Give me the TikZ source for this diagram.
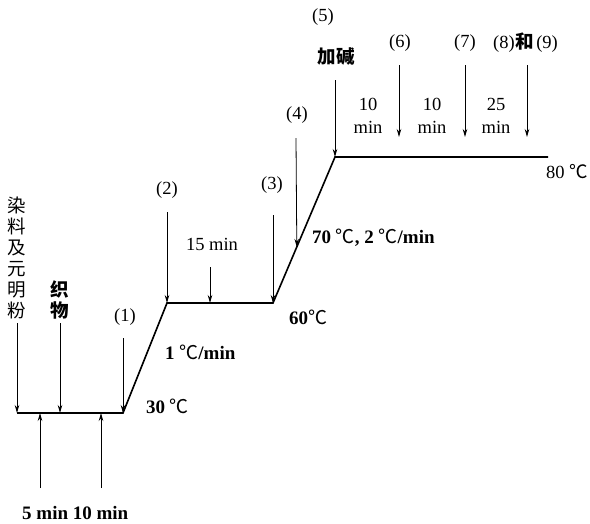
\documentclass[tikz,border=0pt]{standalone}
\usepackage{fontspec}
\setmainfont{Liberation Serif}
\newfontfamily\cjk{Noto Sans CJK SC}
\usetikzlibrary{arrows.meta,calc}
\newcommand{\degC}{{\cjk\mdseries ℃}}
\begin{document}
\begin{tikzpicture}[x=1pt,y=-1pt,
  stepline/.style={line width=1.6pt},
  downarr/.style={line width=0.8pt,-{Stealth[length=8pt,width=4.5pt]}},
  lbl/.style={inner sep=0pt,font=\fontsize{18.5}{20}\selectfont},
  blbl/.style={inner sep=0pt,font=\fontsize{19}{21}\selectfont\bfseries},
  vtxt/.style={inner sep=0pt,align=center,font=\fontsize{18.5}{21}\selectfont\cjk}]
\useasboundingbox (0,0) rectangle (590,523);
% profile
\coordinate (p0) at (17,413);
\coordinate (p1) at (123,413);
\coordinate (p2) at (167,303);
\coordinate (p3) at (273,303);
\coordinate (p4) at (335,157);
\coordinate (p5) at (548,157);
\draw[stepline] (p0) -- (p1) -- (p2) -- (p3) -- (p4) -- (p5);
% arrow tips on the line
\coordinate (t0) at (17,413);
\coordinate (tf) at (60,413);
\coordinate (t5) at (40,413);
\coordinate (t10) at (101,413);
\coordinate (t2) at (167,303);
\coordinate (t15) at (210,303);
\coordinate (t4) at ($(p3)!0.384!(p4)$);
\coordinate (t6) at (399,137);
\coordinate (t7) at (465,137);
\coordinate (t8) at (527,137);
% arrow tails
\coordinate (s0) at (17,323);
\coordinate (sf) at (60,323);
\coordinate (s1) at (123,338);
\coordinate (s5) at (40,488);
\coordinate (s10) at (101,488);
\coordinate (s2) at (167,212);
\coordinate (s15) at (210,267);
\coordinate (s3) at (273,215);
\coordinate (s4) at (296,138);
\coordinate (s5b) at (335,80);
\coordinate (s6) at (399,65);
\coordinate (s7) at (465,65);
\coordinate (s8) at (527,65);
\draw[downarr] (s0) -- (t0);
\draw[downarr] (sf) -- (tf);
\draw[downarr] (s1) -- (p1);
\draw[downarr] (s5) -- (t5);
\draw[downarr] (s10) -- (t10);
\draw[downarr] (s2) -- (t2);
\draw[downarr] (s15) -- (t15);
\draw[downarr] (s3) -- (p3);
\draw[downarr] (s4) -- (t4);
\draw[downarr] (s5b) -- (p4);
\draw[downarr] (s6) -- (t6);
\draw[downarr] (s7) -- (t7);
\draw[downarr] (s8) -- (t8);
% labels
\node[vtxt, anchor=south] (dye) at (17,319) {染\\料\\及\\元\\明\\粉};
\node[vtxt, anchor=south, font=\fontsize{18.5}{21}\selectfont\cjk\bfseries] (fab) at (60,319) {织\\物};
\node[lbl] (l1) at (125,317) {(1)};
\node[blbl, anchor=west] (lt) at (22,513) {5 min 10 min};
\node[blbl, anchor=west] (l30) at (146,406) {30 \degC};
\node[blbl, anchor=west] (lr1) at (165,352) {1 \degC/min};
\node[lbl] (l2) at (167,190) {(2)};
\node[lbl] (l15) at (212,244) {15 min};
\node[lbl] (l3) at (272,185) {(3)};
\node[blbl, anchor=west] (l60) at (289,317) {60\degC};
\node[lbl] (l4) at (297,115) {(4)};
\node[blbl, anchor=west] (l70) at (312,238) {70 \degC, 2 \degC/min};
\node[lbl] (l5) at (323,17) {(5)};
\node[inner sep=0pt, font=\fontsize{18.5}{20}\selectfont\cjk\bfseries] (ljian) at (336,57) {加碱};
\node[lbl] (l6) at (400,43) {(6)};
\node[lbl] (l7) at (465,43) {(7)};
\node[lbl, anchor=west] (l89) at (493,43) {(8)\kern1pt{\cjk\bfseries 和}\kern2pt(9)};
\node[lbl, align=center, font=\fontsize{18.5}{23}\selectfont] (m1) at (368,116) {10\\min};
\node[lbl, align=center, font=\fontsize{18.5}{23}\selectfont] (m2) at (432,116) {10\\min};
\node[lbl, align=center, font=\fontsize{18.5}{23}\selectfont] (m3) at (496,116) {25\\min};
\node[lbl] (l80) at (567,172) {80 \degC};
\end{tikzpicture}
\end{document}
